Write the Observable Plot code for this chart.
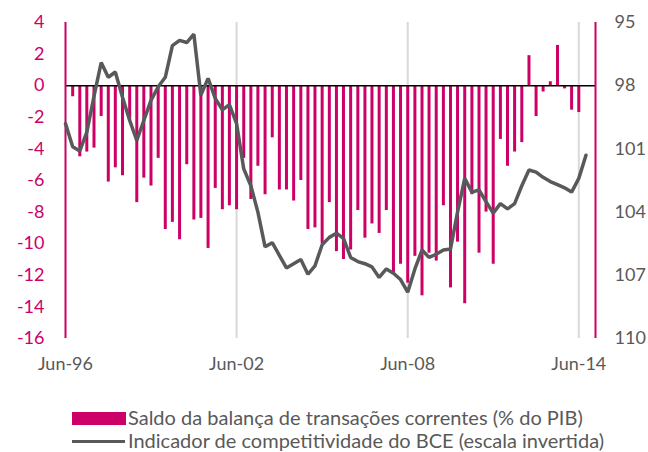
<!DOCTYPE html>
<html><head><meta charset="utf-8">
<script src="https://cdn.jsdelivr.net/npm/d3@7"></script>
<script src="https://cdn.jsdelivr.net/npm/@observablehq/plot@0.6"></script>
<style>
body{margin:0;background:#fff;font-family:Lato,"Open Sans",sans-serif;}
#wrap{position:relative;width:648px;height:452px;overflow:hidden;}
#wrap svg{position:absolute;left:0;top:0;background:transparent;}
.legend{position:absolute;left:0;top:406px;font-size:20px;line-height:23px;color:#595959;}
.row{position:relative;height:23px;white-space:nowrap;}
.row span.t{position:absolute;left:128px;top:0;}
.sw{position:absolute;left:72px;}
</style></head><body>
<div id="wrap"></div>
<script>
// Current account balance (% of GDP), quarterly, from Sep-96
const barStart = "1996-09";
const barValues = [
  -0.7, -4.5, -4.2, -3.95, -1.95, -6.1, -5.2, -5.7, -2.2, -7.4,
  -5.85, -6.35, -4.6, -9.1, -8.65, -9.75, -5.0, -8.5, -8.4, -10.3,
  -6.5, -7.85, -7.6, -7.85, -4.6, -7.2, -5.1, -6.9, -3.3, -6.6,
  -6.6, -7.3, -6.0, -9.1, -9.0, -10.0, -7.4, -10.5, -11.0, -10.4,
  -7.9, -9.65, -8.75, -9.35, -7.9, -11.9, -11.3, -12.5, -10.8, -13.3,
  -10.6, -11.1, -7.6, -12.8, -9.9, -13.8, -6.9, -10.6, -8.0, -11.3,
  -3.4, -5.1, -4.2, -3.6, 1.9, -1.95, -0.4, 0.25, 2.55, -0.2,
  -1.55, -1.7
];
// ECB competitiveness indicator (inverted scale), quarterly, from Jun-96
const lineStart = "1996-06";
const lineValues = [
  99.8, 100.9, 101.1,
  100.2, 98.5, 96.9, 97.6,
  97.35, 98.55, 99.65, 100.6,
  99.65, 98.7, 98.05, 97.6,
  96.1, 95.85, 95.95, 95.55,
  98.45, 97.65, 98.6, 99.15,
  98.9, 99.8, 101.95, 102.75,
  104.0, 105.65, 105.45, 106.05,
  106.65, 106.45, 106.25, 106.95,
  106.55, 105.55, 105.2, 105.0,
  105.25, 106.15, 106.35, 106.45,
  106.6, 107.1, 106.7, 106.9,
  107.2, 107.8, 106.7, 105.8,
  106.15, 106.0, 105.8, 105.75,
  104.0, 102.4, 103.05, 102.95,
  103.5, 104.05, 103.6, 103.85,
  103.6, 102.75, 102.0, 102.1,
  102.35, 102.55, 102.7, 102.85,
  103.05, 102.4, 101.3
];
const xTickLabels = ["1996-06", "2002-06", "2008-06", "2014-06"];
const xDomainLabels = ["1996-06", "2015-01"];
const leftTicks = [4, 2, 0, -2, -4, -6, -8, -10, -12, -14, -16];
const rightTicks = [95, 98, 101, 104, 107, 110];
const seriesNames = [
  "Saldo da balança de transações correntes (% do PIB)",
  "Indicador de competitividade do BCE (escala invertida)"
];

const MAGENTA = "#cc0066";
const GRAY = "#58595b";
const TEXT = "#595959";

const parseYM = d3.utcParse("%Y-%m");
const fmt = d3.utcFormat("%b-%y");
const bars = barValues.map((v, i) => ({date: d3.utcMonth.offset(parseYM(barStart), 3 * i), value: v}));
const line = lineValues.map((v, i) => ({date: d3.utcMonth.offset(parseYM(lineStart), 3 * i), value: v}));
const xTicks = xTickLabels.map(parseYM);
const xDomain = xDomainLabels.map(parseYM);

const common = {
  width: 648, height: 390,
  marginTop: 22, marginBottom: 52, marginLeft: 65, marginRight: 53,
  style: {fontFamily: "Lato, 'Open Sans', sans-serif", fontSize: "18px", background: "transparent", overflow: "visible"},
  x: {type: "utc", domain: xDomain}
};

const p1 = Plot.plot({
  ...common,
  y: {domain: [-16, 4]},
  marks: [
    Plot.ruleX(xTicks.slice(1), {y1: -16, y2: 4, stroke: "#d9d9d9", strokeWidth: 2}),
    Plot.ruleX(bars, {x: "date", y1: 0, y2: "value", stroke: MAGENTA, strokeWidth: 3}),
    Plot.ruleY([0], {stroke: "#000", strokeWidth: 1.6}),
    Plot.ruleX(xDomain, {y1: -16, y2: 4, stroke: MAGENTA, strokeWidth: 2}),
    Plot.axisY({ticks: leftTicks, tickSize: 0, tickPadding: 21, tickFormat: d => String(d), color: MAGENTA, fontSize: 18, label: null}),
    Plot.axisX({ticks: xTicks, tickSize: 0, tickPadding: 19, tickFormat: fmt, color: TEXT, fontSize: 18, label: null})
  ]
});

const p2 = Plot.plot({
  ...common,
  y: {domain: [95, 110], reverse: true},
  marks: [
    Plot.line(line, {x: "date", y: "value", stroke: GRAY, strokeWidth: 3.5, strokeLinejoin: "miter"}),
    Plot.axisY({anchor: "right", ticks: rightTicks, tickSize: 0, tickPadding: 19, tickFormat: d => String(d), color: TEXT, fontSize: 18, label: null}),
    Plot.axisX({ticks: [], label: null})
  ]
});

const wrap = document.getElementById("wrap");
wrap.appendChild(p1);
wrap.appendChild(p2);

const legend = document.createElement("div");
legend.className = "legend";
legend.innerHTML = `
  <div class="row"><div class="sw" style="top:6px;width:54px;height:13px;background:${MAGENTA}"></div><span class="t">${seriesNames[0]}</span></div>
  <div class="row"><div class="sw" style="top:10.5px;width:53px;height:3.5px;background:${GRAY}"></div><span class="t">${seriesNames[1]}</span></div>`;
wrap.appendChild(legend);
</script>
</body></html>
